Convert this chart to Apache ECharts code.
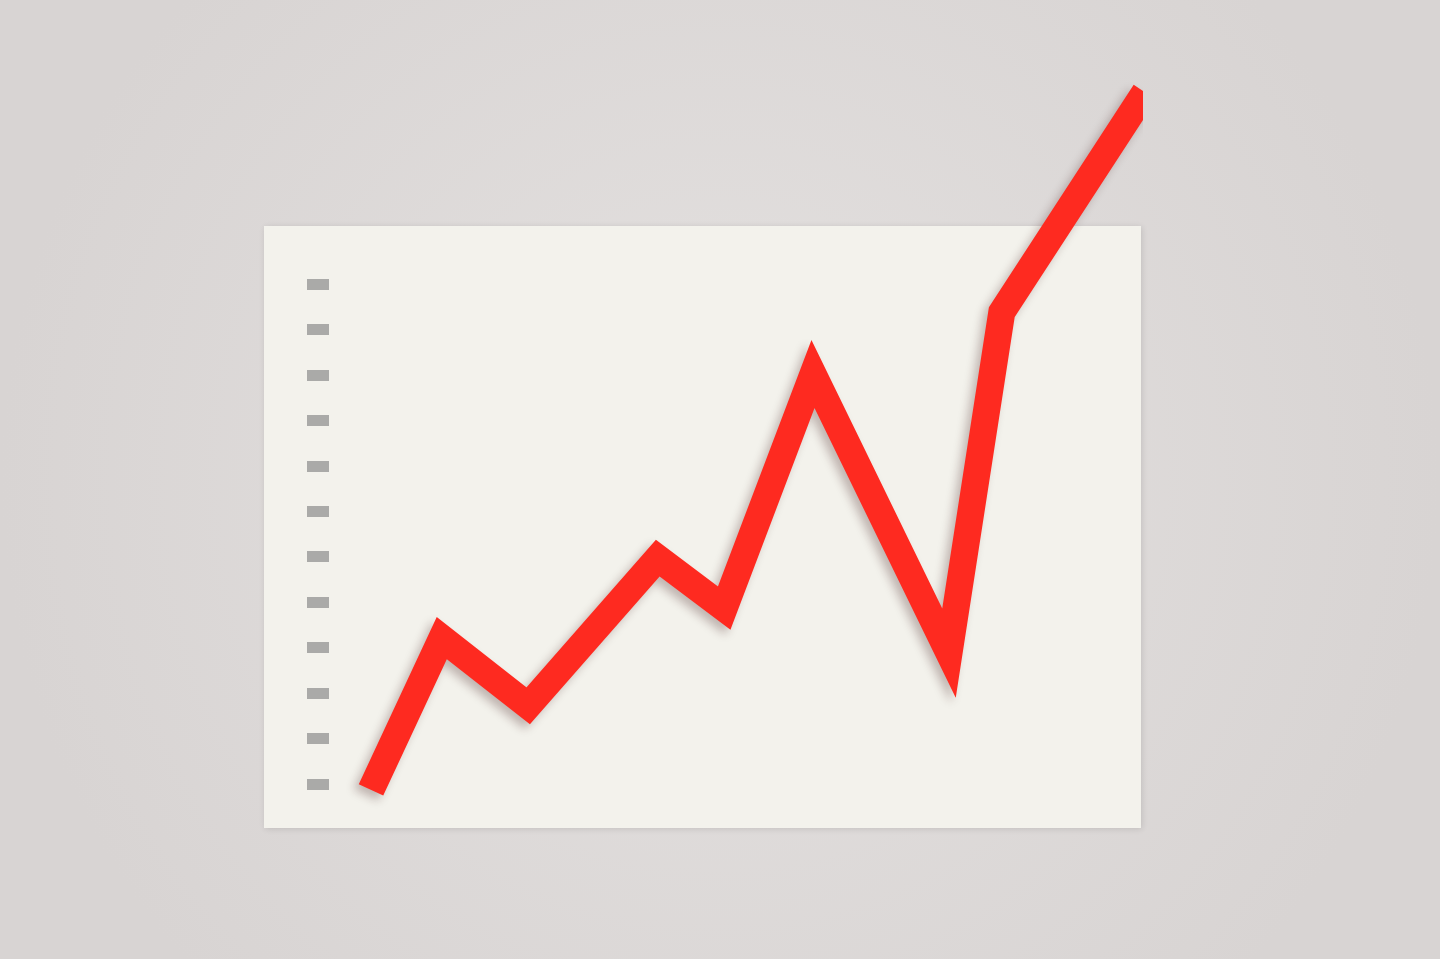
<!DOCTYPE html>
<html>
<head>
<meta charset="utf-8">
<script src="https://cdn.jsdelivr.net/npm/echarts@6/dist/echarts.min.js"></script>
<style>
  html, body { margin: 0; padding: 0; width: 100%; height: 100%; background: #dedad9; }
  #chart { width: 1440px; height: 959px; }
</style>
</head>
<body>
<div id="chart"></div>
<script>
// Data
const xValues = [5.25, 14.1, 24.9, 41.1, 49.4, 60.5, 77.5, 84.1, 102];
const yValues = [-0.13, 3.21, 1.72, 4.97, 3.87, 9.02, 2.88, 10.38, 15.22];
const tickValues = [0, 1, 2, 3, 4, 5, 6, 7, 8, 9, 10, 11];

const seriesData = xValues.map((x, i) => [x, yValues[i]]);

const chart = echarts.init(document.getElementById('chart'), null, { renderer: 'canvas' });

chart.setOption({
  animation: false,
  backgroundColor: {
    type: 'radial', x: 0.5, y: 0.5, r: 0.75,
    colorStops: [
      { offset: 0, color: '#e4e1e0' },
      { offset: 1, color: '#d8d4d3' }
    ]
  },
  graphic: [{
    type: 'rect',
    z: -10,
    shape: { x: 264, y: 226, width: 877, height: 602 },
    style: {
      fill: '#f3f2ec',
      shadowBlur: 6,
      shadowOffsetX: 1,
      shadowOffsetY: 1,
      shadowColor: 'rgba(0,0,0,0.12)'
    }
  }],
  grid: { left: 329, top: 284, width: 800, height: 500 },
  xAxis: {
    type: 'value',
    min: 0,
    max: 100,
    show: false
  },
  yAxis: {
    type: 'value',
    min: 0,
    max: 11,
    interval: 1,
    axisLine: { show: false },
    axisLabel: { show: false },
    splitLine: { show: false },
    axisTick: {
      show: true,
      inside: false,
      length: 22,
      lineStyle: { color: '#aaaaa8', width: 11 }
    }
  },
  series: [{
    type: 'line',
    data: seriesData,
    clip: false,
    symbol: 'none',
    smooth: false,
    lineStyle: {
      color: '#fe2a20',
      width: 27,
      cap: 'butt',
      join: 'miter',
      miterLimit: 10,
      shadowBlur: 10,
      shadowOffsetX: -5,
      shadowOffsetY: 5,
      shadowColor: 'rgba(60,20,20,0.28)'
    }
  }]
});
</script>
</body>
</html>
